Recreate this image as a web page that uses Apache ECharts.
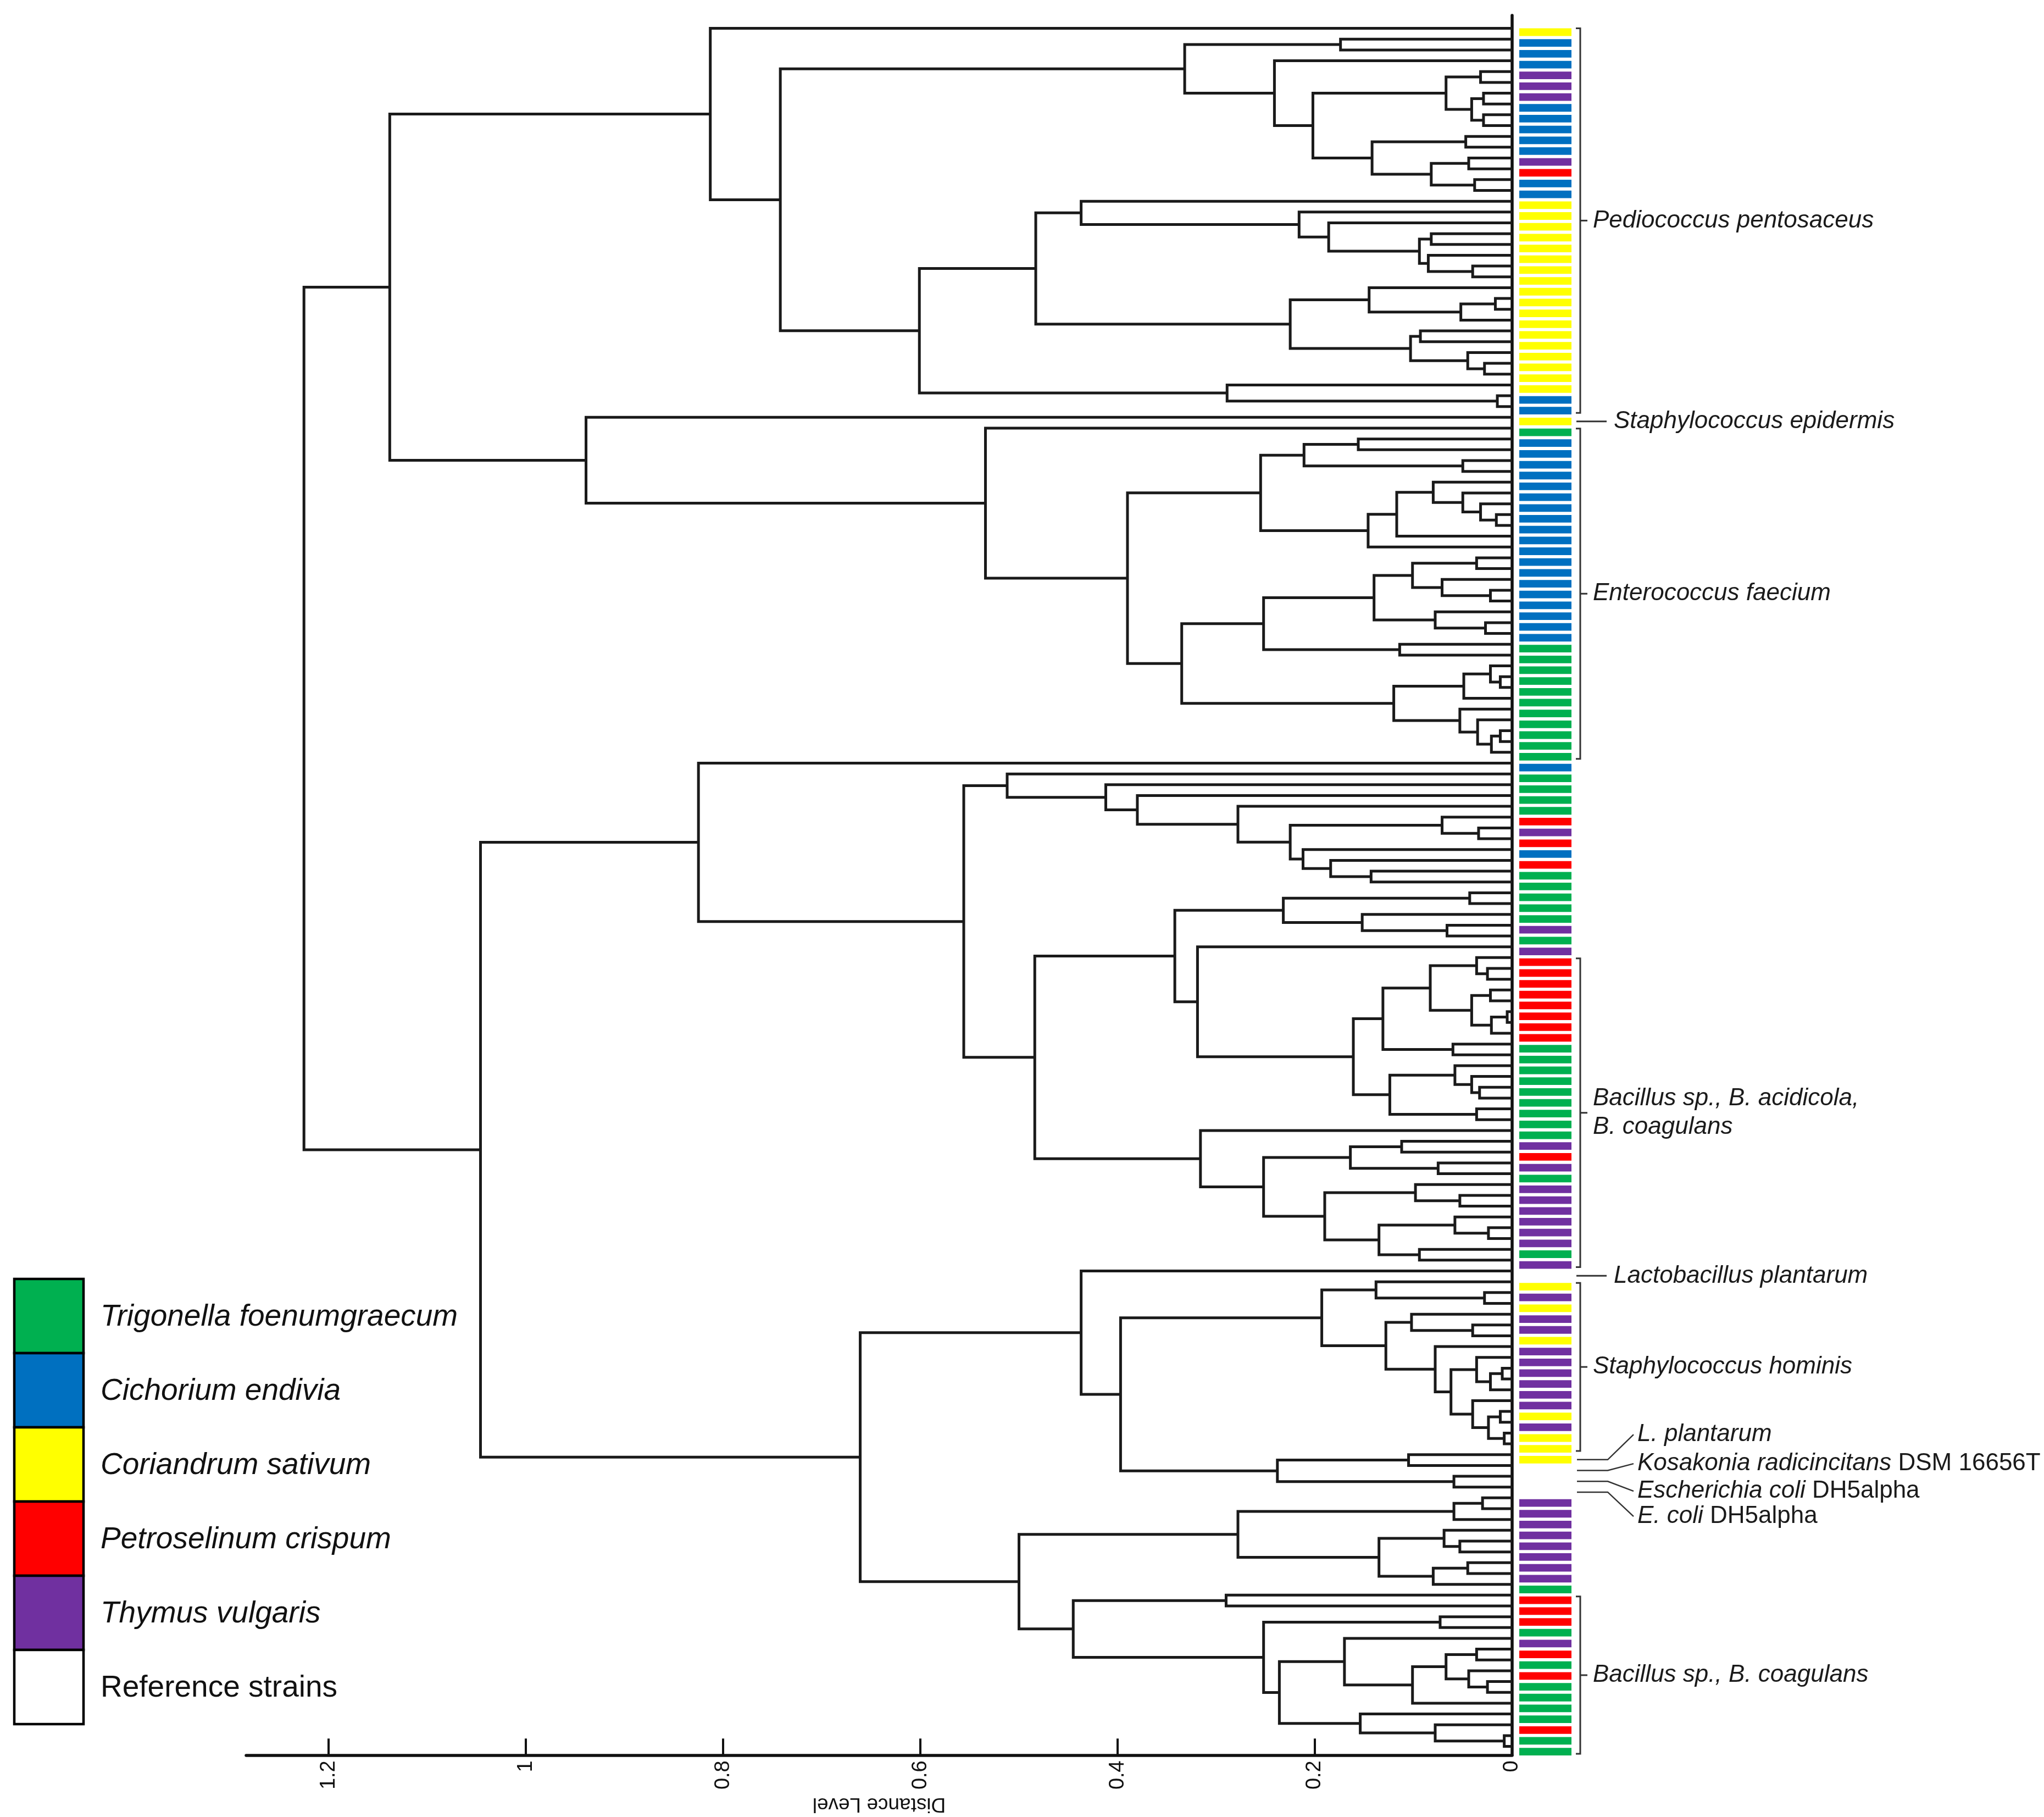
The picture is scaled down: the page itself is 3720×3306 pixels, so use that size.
<!DOCTYPE html>
<html><head><meta charset="utf-8">
<script src="https://cdn.jsdelivr.net/npm/echarts@6/dist/echarts.min.js"></script>
<style>html,body{margin:0;padding:0;background:#fff}#c{width:3720px;height:3306px}</style>
</head><body><div id="c"></div>
<script>
// ================= DATA =================
const sourceNames  = ['Trigonella foenumgraecum','Cichorium endivia','Coriandrum sativum','Petroselinum crispum','Thymus vulgaris','Reference strains'];
const sourceCodes  = ['G','B','Y','R','P','W'];
const sourceColors = ['#00B050','#0070C0','#FFFF00','#FF0000','#7030A0','#FFFFFF'];

// isolation source of each leaf, dendrogram order top -> bottom
const leafSources = [
 'Y','B','B','B','P','P','P','B','B','B','B','B','P','R','B','B',
 'Y','Y','Y','Y','Y','Y','Y','Y','Y','Y','Y','Y','Y','Y','Y','Y','Y','Y',
 'B','B','Y','G',
 'B','B','B','B','B','B','B','B','B','B','B','B','B','B','B','B','B','B','B',
 'G','G','G','G','G','G','G','G','G','G','G',
 'B','G','G','G','G','R','P','R','B','R','G','G','G','G','G','P','G','P',
 'R','R','R','R','R','R','R','R',
 'G','G','G','G','G','G','G','G','G',
 'P','R','P','G','P','P','P','P','P','P','G','P','W',
 'Y','P','Y','P','P','Y','P','P','P','P','P','P','Y','P','Y','Y','Y',
 'W','W','W',
 'P','P','P','P','P','P','P','P','G','R','R','R','G','P','R','G','R','G','G','G','G','R','G','G'
];

const distanceTicks = [0, 0.2, 0.4, 0.6, 0.8, 1, 1.2];

// dendrogram: [merge distance, left, right]; integers are leaf numbers
const pediococcusA = [0.332, [0.174, 2, 3], [0.241, 4, [0.202,
    [0.067, [0.032, 5, 6], [0.041, [0.029, 7, 8], [0.029, 9, 10]]],
    [0.142, [0.047, 11, 12], [0.082, [0.044, 13, 14], [0.038, 15, 16]]]]]];
const pediococcusB = [0.601,
    [0.483,
      [0.437, 17, [0.216, 18, [0.186, 19, [0.094, [0.082, 20, 21], [0.085, 22, [0.040, 23, 24]]]]]],
      [0.225, [0.145, 25, [0.052, [0.017, 26, 27], 28]], [0.103, [0.093, 29, 30], [0.045, 31, [0.028, 32, 33]]]]],
    [0.289, 34, [0.015, 35, 36]]];
const pediococcusClade = [0.813, 1, [0.742, pediococcusA, pediococcusB]];

const enterococcusA = [0.255, [0.211, [0.156, 39, 40], [0.050, 41, 42]],
    [0.146, [0.117, [0.080, 43, [0.050, 44, [0.032, 45, [0.016, 46, 47]]]], 48], 49]];
const enterococcusB = [0.335,
    [0.252, [0.140, [0.101, [0.036, 50, 51], [0.071, 52, [0.022, 53, 54]]], [0.078, 55, [0.027, 56, 57]]], [0.114, 58, 59]],
    [0.120, [0.049, [0.022, 60, [0.012, 61, 62]], 63], [0.053, 64, [0.035, 65, [0.021, [0.012, 66, 67], 68]]]]];
const enterococcusClade = [0.939, 37, [0.534, 38, [0.390, enterococcusA, enterococcusB]]];

const bacillusA = [0.512, 70, [0.412, 71, [0.380, 72, [0.278, 73,
    [0.225, [0.071, 74, [0.034, 75, 76]], [0.212, 77, [0.184, 78, [0.143, 79, 80]]]]]]]];
const bacillusB = [0.342, [0.232, [0.043, 81, 82], [0.152, 83, [0.066, 84, 85]]],
    [0.319, 86, [0.161,
      [0.131, [0.083, [0.036, 87, [0.025, 88, 89]], [0.041, [0.022, 90, 91], [0.021, [0.005, 92, 93], 94]]], [0.060, 95, 96]],
      [0.124, [0.058, 97, [0.041, 98, [0.033, 99, 100]]], [0.036, 101, 102]]]]];
const bacillusC = [0.316, 103, [0.252, [0.164, [0.112, 104, 105], [0.075, 106, 107]],
    [0.190, [0.098, 108, [0.053, 109, 110]], [0.135, [0.058, 111, [0.024, 112, 113]], [0.094, 114, 115]]]]];
const bacillusClade = [0.825, 69, [0.556, bacillusA, [0.484, bacillusB, bacillusC]]];

const hominisClade = [0.193, [0.138, 117, [0.028, 118, 119]],
    [0.128, [0.102, 120, [0.040, 121, 122]],
      [0.078, 123, [0.062, [0.036, 124, [0.022, [0.010, 125, 126], 127]], [0.040, 128, [0.024, [0.012, 129, 130], [0.008, 131, 132]]]]]]];
const referenceClade = [0.238, [0.105, 133, 134], [0.059, 135, 136]];
const thymusClade = [0.278, [0.059, [0.030, 137, 138], 139],
    [0.135, [0.069, 140, [0.053, 141, 142]], [0.080, [0.045, 143, 144], 145]]];
const coagulansClade = [0.445, [0.290, 146, 147], [0.252, [0.073, 148, 149],
    [0.236, [0.170, 150, [0.101, [0.067, [0.036, 151, 152], [0.044, 153, [0.025, 154, 155]]], 156]],
            [0.154, 157, [0.078, 158, [0.008, 159, 160]]]]]];
const lowerClade = [0.661, [0.437, 116, [0.397, hominisClade, referenceClade]], [0.500, thymusClade, coagulansClade]];

const treeRoot = [1.225, [1.138, pediococcusClade, enterococcusClade], [1.046, bacillusClade, lowerClade]];

// cluster annotations (leaf ranges) and single strain labels
const cladeLabels = [
  {text: '{i|Pediococcus pentosaceus}', from: 1, to: 36},
  {text: '{i|Enterococcus faecium}', from: 38, to: 68},
  {text: '{i|Bacillus sp., B. acidicola,}\n{i|B. coagulans}', from: 87, to: 115},
  {text: '{i|Staphylococcus hominis}', from: 117, to: 132},
  {text: '{i|Bacillus sp., B. coagulans}', from: 146, to: 160}
];
const strainLabels = [
  {text: '{i|Staphylococcus epidermis}', leaf: 37},
  {text: '{i|Lactobacillus plantarum}', leaf: 116},
  {text: '{i|L. plantarum}', leaf: 133},
  {text: '{i|Kosakonia radicincitans}{n| DSM 16656T}', leaf: 134},
  {text: '{i|Escherichia coli}{n| DH5alpha}', leaf: 135},
  {text: '{i|E. coli}{n| DH5alpha}', leaf: 136}
];

// ================= LAYOUT / STYLE =================
const FONT = '"Liberation Sans", Arial, sans-serif';
const NARROW = '"Liberation Sans Narrow", "Liberation Sans", Arial, sans-serif';
const labelFan = {133: -1.97, 134: -0.28, 135: 1.26, 136: 2.6}; // text offset (leaf units) for fanned labels
const richStyles = {
  i: {fontStyle: 'italic', fontSize: 44, fontFamily: FONT, fill: '#1a1a1a', lineHeight: 52},
  n: {fontStyle: 'normal', fontSize: 44, fontFamily: FONT, fill: '#1a1a1a', lineHeight: 52}
};

// compute dendrogram segments
const segments = [];
let leafCounter = 0;
function layoutNode(node) {
  if (typeof node === 'number') { leafCounter++; return {h: 0, y: leafCounter}; }
  const a = layoutNode(node[1]), b = layoutNode(node[2]);
  segments.push([node[0], a.y, b.y, a.h, b.h]);
  return {h: node[0], y: (a.y + b.y) / 2};
}
layoutNode(treeRoot);

const barData = leafSources.map((s, i) => [i + 1, sourceCodes.indexOf(s)]);
const annoDefs = cladeLabels.map(c => ({kind: 'clade', ...c})).concat(strainLabels.map(s => ({kind: 'strain', ...s})));
const annoData = annoDefs.map(d => d.kind === 'clade' ? [d.from, d.to] : [d.leaf, d.leaf]);

const chart = echarts.init(document.getElementById('c'), null, {renderer: 'canvas'});

const legendGraphics = [];
sourceNames.forEach((name, k) => {
  const top = 2327 + k * 135;
  legendGraphics.push({type: 'rect', shape: {x: 26, y: top, width: 126, height: 135},
    style: {fill: sourceColors[k], stroke: '#000', lineWidth: 4.5}, z: 10});
  legendGraphics.push({type: 'text', x: 183, y: top + 70, z: 10,
    style: {text: name, fontSize: 55, fontFamily: FONT, fontStyle: k === 5 ? 'normal' : 'italic',
            fill: '#111', verticalAlign: 'middle', align: 'left'}});
});

const option = {
  animation: false,
  backgroundColor: '#fff',
  grid: [
    {left: 448, right: 968, top: 28, bottom: 110},
    {left: 2765, right: 860, top: 28, bottom: 110}
  ],
  xAxis: [
    {type: 'value', gridIndex: 0, min: 0, max: 1.2836, inverse: true,
     axisLine: {show: true, onZero: false, lineStyle: {color: '#111', width: 5.5}},
     axisTick: {show: true, inside: true, length: 30, customValues: distanceTicks, lineStyle: {color: '#111', width: 4}},
     axisLabel: {show: true, customValues: distanceTicks, rotate: 90, margin: 10, fontSize: 38, fontFamily: NARROW, color: '#111',
                 formatter: v => String(v)},
     splitLine: {show: false},
     name: 'Distance Level', nameLocation: 'middle', nameGap: 60, nameRotate: 180,
     nameTextStyle: {fontSize: 37, fontFamily: FONT, color: '#111'}},
    {type: 'value', gridIndex: 1, min: 0, max: 1, show: false}
  ],
  yAxis: [
    {type: 'value', gridIndex: 0, min: -0.2, max: 160.8, inverse: true, position: 'right',
     axisLine: {show: true, onZero: false, lineStyle: {color: '#111', width: 5.5}},
     axisTick: {show: false}, axisLabel: {show: false}, splitLine: {show: false}},
    {type: 'value', gridIndex: 1, min: -0.2, max: 160.8, inverse: true, show: false}
  ],
  graphic: legendGraphics,
  series: [
    {type: 'custom', name: 'dendrogram', xAxisIndex: 0, yAxisIndex: 0, clip: false,
     data: segments, encode: {x: [0, 3, 4], y: [1, 2]},
     renderItem: (params, api) => {
       const h = api.value(0), y1 = api.value(1), y2 = api.value(2), h1 = api.value(3), h2 = api.value(4);
       const pts = [api.coord([h1, y1]), api.coord([h, y1]), api.coord([h, y2]), api.coord([h2, y2])];
       return {type: 'polyline', shape: {points: pts}, style: {stroke: '#1a1a1a', lineWidth: 5, fill: null, lineJoin: 'miter'}};
     }},
    {type: 'custom', name: 'source', xAxisIndex: 1, yAxisIndex: 1, clip: false,
     data: barData, encode: {y: 0},
     renderItem: (params, api) => {
       const i = api.value(0), code = api.value(1);
       const p0 = api.coord([0, i]), p1 = api.coord([1, i + 0.7]);
       return {type: 'rect', shape: {x: p0[0], y: p0[1], width: p1[0] - p0[0], height: p1[1] - p0[1]},
               style: {fill: sourceColors[code]}};
     }},
    {type: 'custom', name: 'annotations', xAxisIndex: 1, yAxisIndex: 1, clip: false,
     data: annoData, encode: {y: [0, 1]},
     renderItem: (params, api) => {
       const d = annoDefs[params.dataIndex];
       const x0 = api.coord([1, 0])[0];
       const stroke = '#333';
       if (d.kind === 'clade') {
         const yT = api.coord([1, d.from])[1], yB = api.coord([1, d.to + 0.55])[1], yM = (yT + yB) / 2;
         return {type: 'group', children: [
           {type: 'polyline', shape: {points: [[x0 + 8, yT], [x0 + 16, yT], [x0 + 16, yB], [x0 + 8, yB]]}, style: {stroke, lineWidth: 3, fill: null}},
           {type: 'line', shape: {x1: x0 + 16, y1: yM, x2: x0 + 29, y2: yM}, style: {stroke, lineWidth: 3}},
           {type: 'text', x: x0 + 39, y: yM, style: {text: d.text, rich: richStyles, fontSize: 44, fontFamily: FONT, lineHeight: 52, align: 'left', verticalAlign: 'middle'}}
         ]};
       }
       const yL = api.coord([1, d.leaf + 0.35])[1];
       if (labelFan[d.leaf] === undefined) {
         return {type: 'group', children: [
           {type: 'line', shape: {x1: x0 + 9, y1: yL, x2: x0 + 64, y2: yL}, style: {stroke, lineWidth: 3}},
           {type: 'text', x: x0 + 77, y: yL, style: {text: d.text, rich: richStyles, fontSize: 44, fontFamily: FONT, align: 'left', verticalAlign: 'middle'}}
         ]};
       }
       const yT = api.coord([1, d.leaf + labelFan[d.leaf]])[1];
       return {type: 'group', children: [
         {type: 'polyline', shape: {points: [[x0 + 10, yL], [x0 + 66, yL], [x0 + 113, yT]]}, style: {stroke, lineWidth: 2.5, fill: null}},
         {type: 'text', x: x0 + 120, y: yT, style: {text: d.text, rich: richStyles, fontSize: 44, fontFamily: FONT, align: 'left', verticalAlign: 'middle'}}
       ]};
     }}
  ]
};
chart.setOption(option);
</script>
</body></html>
